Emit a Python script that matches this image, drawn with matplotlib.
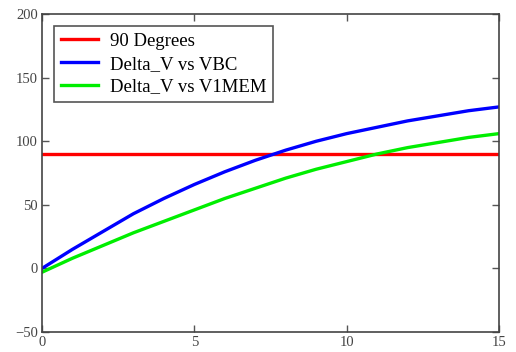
import numpy as np
from matplotlib import pyplot as plt

# values
x = np.arange(0, 16)
delta_vbc = [0, 15, 29, 43, 55, 66, 76, 85, 93, 100, 106, 111, 116, 120, 124, 127]
delta_v1mem = [-3, 8, 18, 28, 37, 46, 55, 63, 71, 78, 84, 90, 95, 99, 103, 106]
ref_deg = 90

plt.rcParams['font.family'] = ['Liberation Serif', 'DejaVu Serif']

fig = plt.figure(figsize=(5.16, 3.52), dpi=100)
ax = fig.add_axes([0.0814, 0.0568, 0.8856, 0.9032])

ax.plot([x[0], x[-1]], [ref_deg, ref_deg], color='#ff0000', lw=2.4, label='90 Degrees')
ax.plot(x, delta_vbc, color='#0000ff', lw=2.4, label='Delta_V vs VBC')
ax.plot(x, delta_v1mem, color='#00ee00', lw=2.4, label='Delta_V vs V1MEM')

ax.set_xlim(0, 15)
ax.set_ylim(-50, 200)
ax.set_xticks([0, 5, 10, 15])
ax.set_yticks([-50, 0, 50, 100, 150, 200])
ax.tick_params(direction='in', top=True, right=True, length=5, width=1,
               color='#555555', labelcolor='#444444', labelsize=10.5, pad=3)
for s in ax.spines.values():
    s.set_color('#444444')
    s.set_linewidth(1.2)

leg = ax.legend(loc='upper left', fontsize=13.5, handlelength=2.0,
                fancybox=False, framealpha=1, edgecolor='#555555',
                borderaxespad=0.65, labelspacing=0.3, borderpad=0.35,
                handletextpad=0.6)
leg.get_frame().set_linewidth(1.2)

plt.savefig('out.png')
